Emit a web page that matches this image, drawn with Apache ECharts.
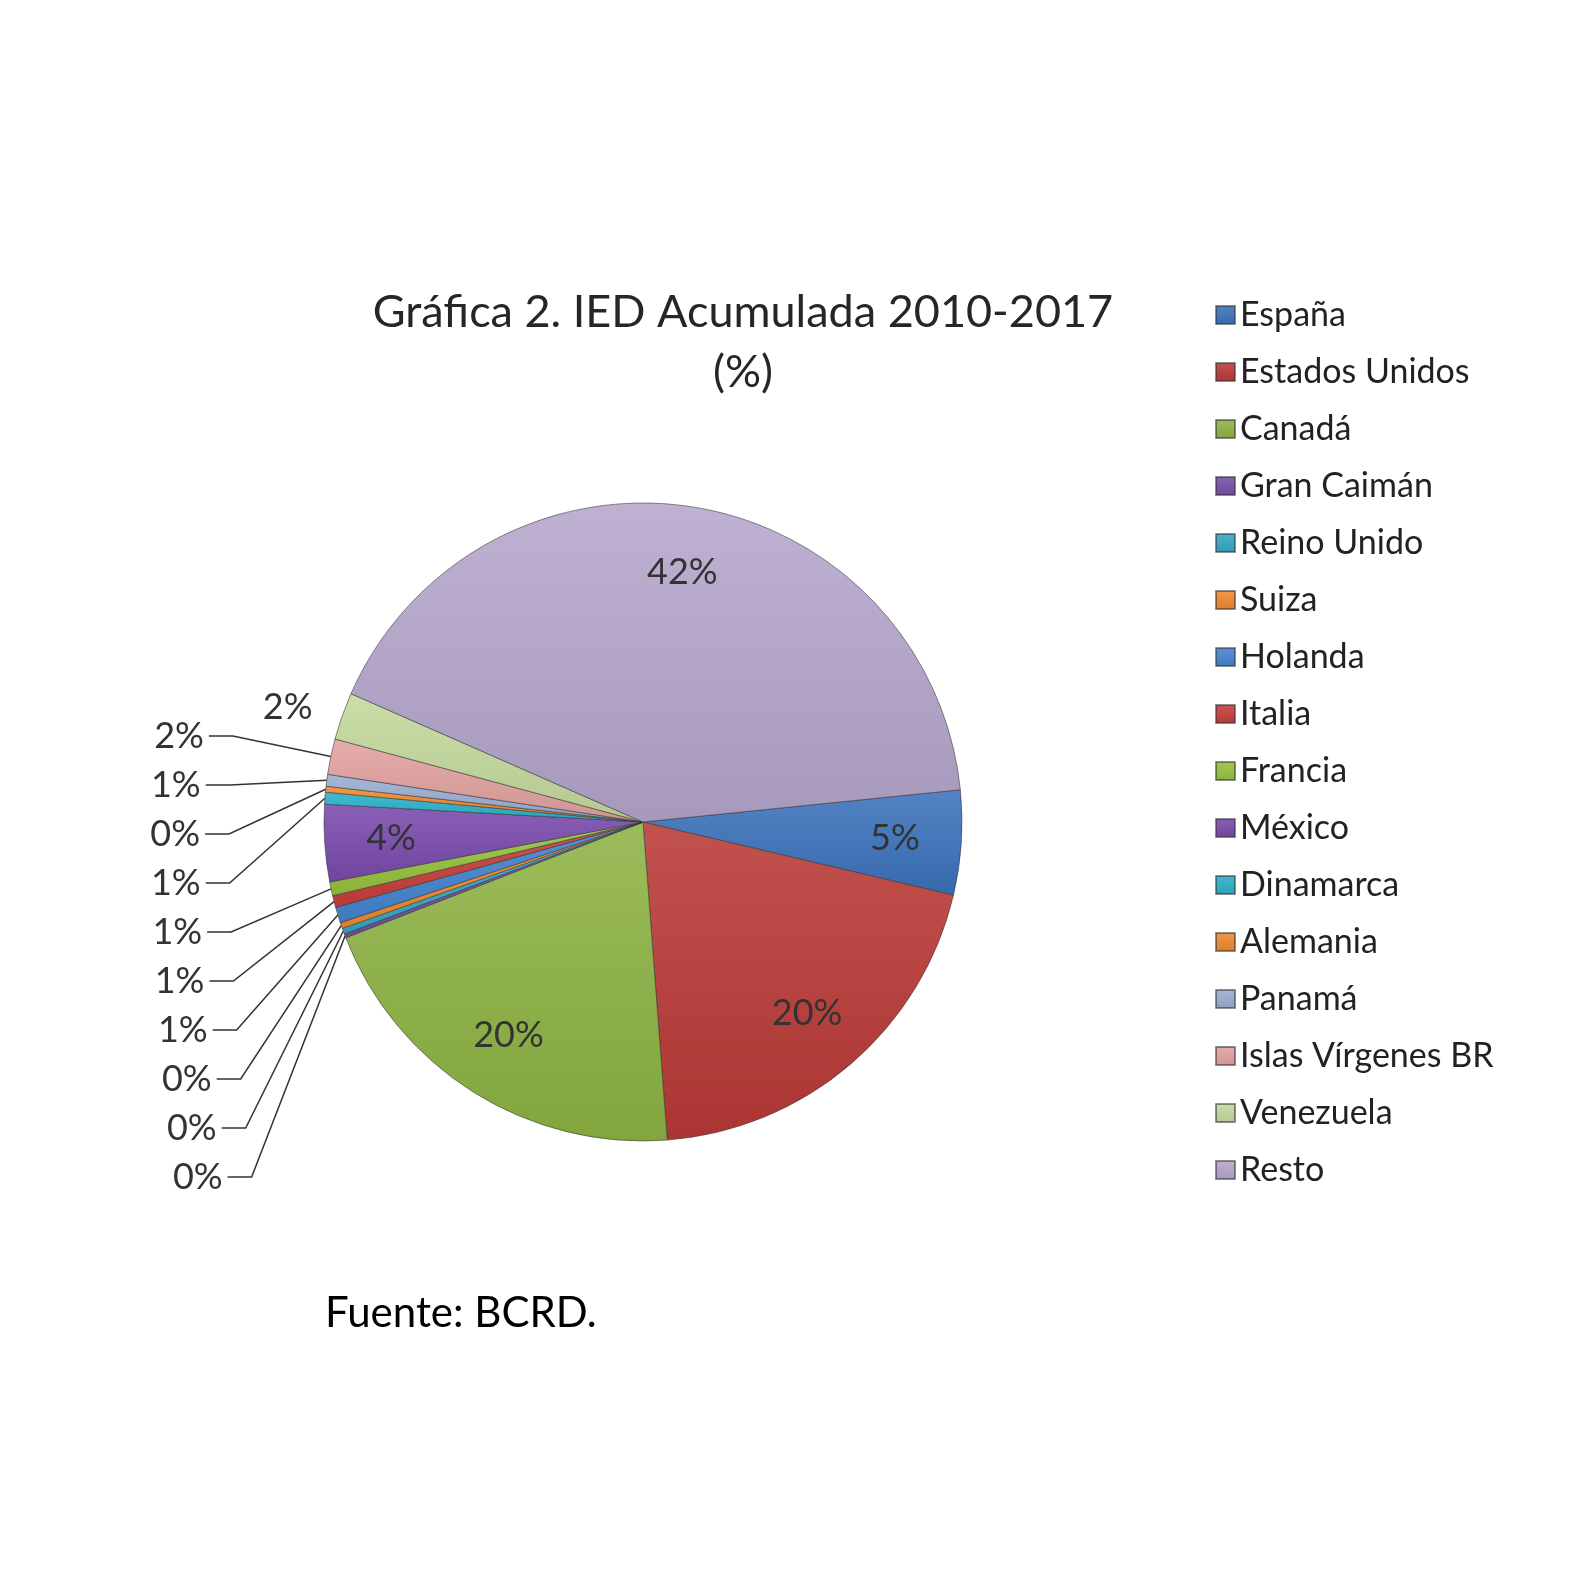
<!DOCTYPE html>
<html>
<head>
<meta charset="utf-8">
<script src="https://cdn.jsdelivr.net/npm/echarts@6/dist/echarts.min.js"></script>
<style>
  html, body { margin: 0; padding: 0; background: #ffffff; }
  #chart { width: 1576px; height: 1576px; }
</style>
</head>
<body>
<div id="chart"></div>
<script>
// ---- data ----
const categories = ['España', 'Estados Unidos', 'Canadá', 'Gran Caimán', 'Reino Unido', 'Suiza',
  'Holanda', 'Italia', 'Francia', 'México', 'Dinamarca', 'Alemania', 'Panamá',
  'Islas Vírgenes BR', 'Venezuela', 'Resto'];
const shares = [5.3, 20.1, 20.3, 0.2, 0.3, 0.3, 0.8, 0.6, 0.7, 3.9, 0.6, 0.3, 0.6, 1.8, 2.4, 41.8];
const titleText = 'Gráfica 2. IED Acumulada 2010-2017\n(%)';
const sourceText = 'Fuente: BCRD.';

// ---- style ----
const palette = ['#3B72BC', '#BA3A36', '#8DB343', '#7550A6', '#35A8C4', '#F08A30',
  '#4583CF', '#C83E3A', '#96C23E', '#7A4AAD', '#2BB0C8', '#EE8A2E', '#9AAED2',
  '#E2A2A0', '#C4D99C', '#B6A6CC'];
const FONT = 'Lato, "Open Sans", sans-serif';

function mix(hex, target, t) {
  const n = parseInt(hex.slice(1), 16);
  const r = (n >> 16) & 255, g = (n >> 8) & 255, b = n & 255;
  const m = c => Math.round(c + (target - c) * t);
  return 'rgb(' + m(r) + ',' + m(g) + ',' + m(b) + ')';
}
function grad(hex) {
  return new echarts.graphic.LinearGradient(0, 0, 0, 1, [
    { offset: 0, color: mix(hex, 255, 0.12) },
    { offset: 1, color: mix(hex, 0, 0.08) }
  ]);
}

const pct = p => Math.round(p.percent) + '%';
const kind = v => v >= 3 ? 'in' : (v >= 2 ? 'near' : 'out');

const mainData = categories.map((name, i) => ({
  name, value: shares[i],
  itemStyle: { color: grad(palette[i]) },
  label: { show: kind(shares[i]) === 'out' }
}));
const overlayData = categories.map((name, i) => {
  const k = kind(shares[i]);
  return {
    name, value: shares[i],
    label: k === 'in' ? { show: true, position: 'inside' }
         : k === 'near' ? { show: true, position: 'outside' }
         : { show: false },
    labelLine: { show: false, length: 26, length2: 0 }
  };
});

const chart = echarts.init(document.getElementById('chart'), null, { renderer: 'canvas' });
chart.setOption({
  backgroundColor: '#ffffff',
  animation: false,
  color: palette,
  legend: {
    orient: 'vertical',
    left: 1210,
    top: 293,
    itemWidth: 19,
    itemHeight: 18,
    itemGap: 23,
    icon: 'rect',
    data: categories,
    textStyle: { fontFamily: FONT, fontSize: 34, color: '#222', lineHeight: 34 }
  },
  graphic: [
    {
      type: 'text', x: 743, y: 282,
      style: {
        text: titleText, align: 'center', verticalAlign: 'top',
        fontFamily: FONT, fontSize: 45, lineHeight: 60, fill: '#262626'
      }
    },
    {
      type: 'text', x: 325, y: 1313,
      style: {
        text: sourceText, align: 'left', verticalAlign: 'middle',
        fontFamily: FONT, fontSize: 42, fill: '#000'
      }
    }
  ],
  series: [
    {
      type: 'pie',
      center: [643, 822],
      radius: 319,
      startAngle: 5.8,
      clockwise: true,
      percentPrecision: 2,
      avoidLabelOverlap: true,
      data: mainData,
      itemStyle: { borderColor: 'rgba(50,50,50,0.55)', borderWidth: 1 },
      label: {
        position: 'outside', formatter: pct,
        fontFamily: FONT, fontSize: 36, color: '#333', lineHeight: 47
      },
      labelLine: { length: 100, length2: 24, lineStyle: { color: '#333', width: 1.5 } },
      emphasis: { disabled: true }
    },
    {
      type: 'pie',
      center: [643, 822],
      radius: [180, 319],
      startAngle: 5.8,
      clockwise: true,
      percentPrecision: 2,
      silent: true,
      data: overlayData,
      itemStyle: { color: 'rgba(0,0,0,0)', borderWidth: 0 },
      label: { formatter: pct, fontFamily: FONT, fontSize: 36, color: '#333' },
      emphasis: { disabled: true }
    }
  ]
});
</script>
</body>
</html>
